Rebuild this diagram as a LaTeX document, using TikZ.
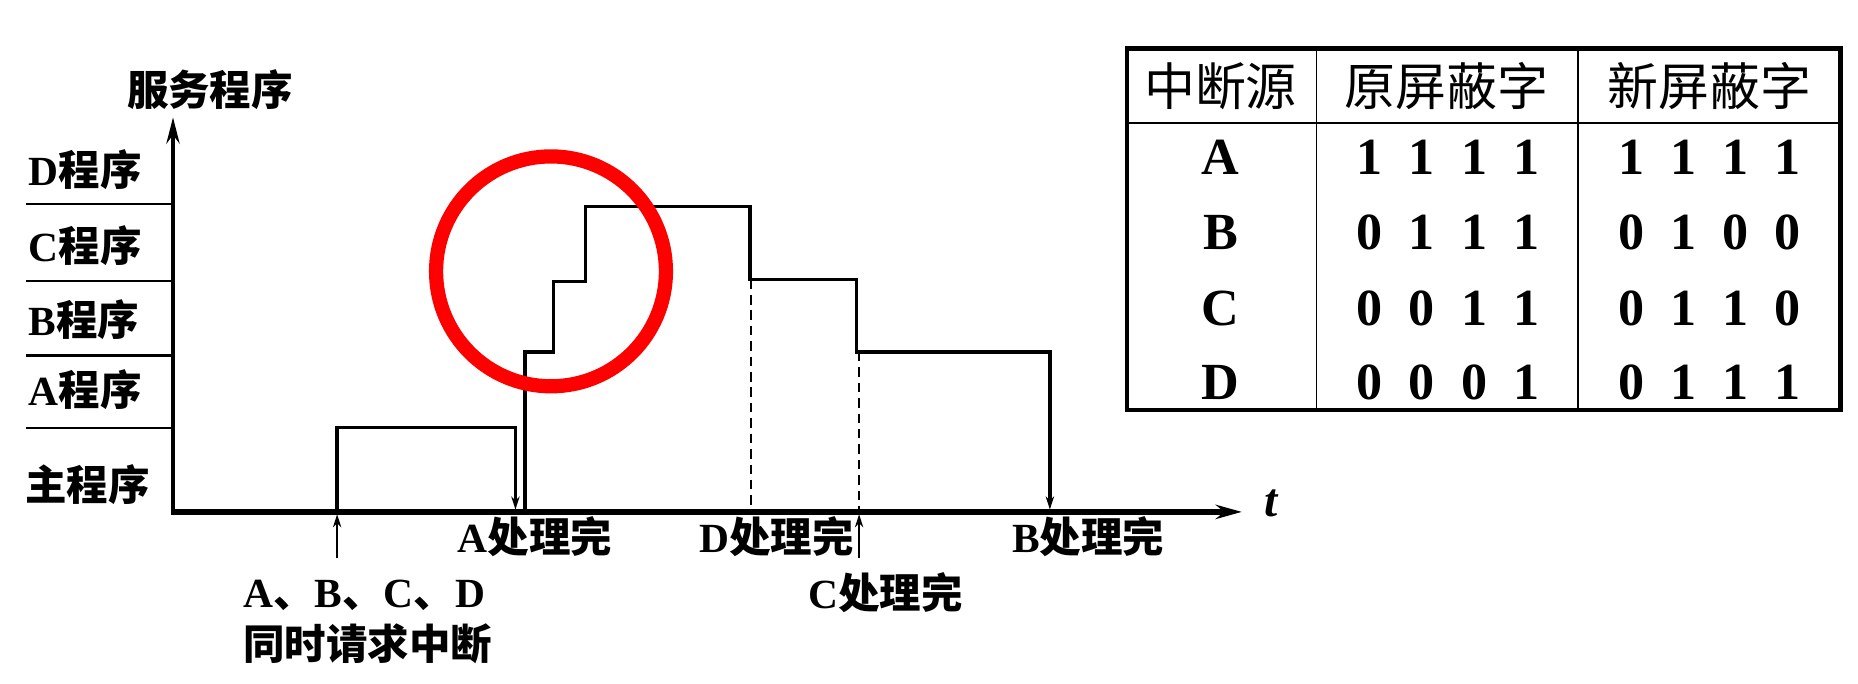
\documentclass[tikz,border=0pt]{standalone}
\usepackage{fontspec}
\setmainfont{Liberation Serif}
\newfontfamily\hei{Noto Sans CJK SC}
\newfontfamily\song{Noto Sans CJK SC}
\usetikzlibrary{arrows.meta}
\begin{document}
\begin{tikzpicture}[x=1pt,y=-1pt,
  lvl/.style={line width=1.8pt},
  stair/.style={line width=2.8pt},
  dashline/.style={line width=1.8pt, dash pattern=on 8pt off 5pt},
  smalltip/.style={-{Stealth[length=11pt,width=7pt]}},
  thinarr/.style={line width=1.6pt,-{Stealth[length=11pt,width=7pt]}},
  lab/.style={inner sep=0pt, anchor=west, font=\fontsize{35}{40}\selectfont\bfseries},
  tab/.style={inner sep=0pt, font=\fontsize{44}{48}\selectfont\bfseries},
  hd/.style={inner sep=0pt, font=\fontsize{43}{48}\selectfont\song},
]
\useasboundingbox (0,0) rectangle (1568,577);
% axes
\coordinate (O) at (146,432);
\coordinate (Ytop) at (146,99);
\coordinate (Xend) at (1048,432);
\draw[line width=3.8pt, -{Stealth[length=22pt,width=11pt]}] (O) -- (Ytop);
\draw[line width=5pt, -{Stealth[length=22pt,width=12pt]}] ([xshift=-1.9pt]O) -- (Xend);
\node[inner sep=0pt, font=\fontsize{40}{44}\selectfont\bfseries\itshape] (t) at (1073,425) {t};
% level lines
\foreach \yy [count=\i] in {172,237.5,300,361}{
  \coordinate (La\i) at (22,\yy);
  \coordinate (Lb\i) at (146,\yy);
  \draw[lvl] (La\i) -- (Lb\i);
}
% labels left
\node[lab] (top) at (107,76) {\hei 服务程序};
\node[lab] (lD) at (24,143.5) {D{\hei 程序}};
\node[lab] (lC) at (24,207) {C{\hei 程序}};
\node[lab] (lB) at (24,270) {B{\hei 程序}};
\node[lab] (lA) at (24,329) {A{\hei 程序}};
\node[lab] (lM) at (21,409) {\hei 主程序};
% main program step
\coordinate (m0) at (284.5,432);
\coordinate (m1) at (284.5,361);
\coordinate (m2) at (435,361);
\coordinate (m3) at (435,430);
\draw[stair, smalltip] (m0) -- (m1) -- (m2) -- (m3);
% interrupt staircase
\coordinate (s0) at (443,432);
\coordinate (s1) at (443,297);
\coordinate (s2) at (467,297);
\coordinate (s3) at (467,237.5);
\coordinate (s4) at (494,237.5);
\coordinate (s5) at (494,174);
\coordinate (s6) at (633,174);
\coordinate (s7) at (633,236);
\coordinate (s8) at (723,236);
\coordinate (s9) at (723,297);
\coordinate (s10) at (886,297);
\coordinate (s11) at (886,430);
\draw[stair, smalltip] (s0) -- (s1) -- (s2) -- (s3) -- (s4) -- (s5) -- (s6) -- (s7) -- (s8) -- (s9) -- (s10) -- (s11);
% dashed
\coordinate (d1a) at (634,236);
\coordinate (d1b) at (634,432);
\coordinate (d2a) at (725,297);
\coordinate (d2b) at (725,432);
\draw[dashline] (d1a) -- (d1b);
\draw[dashline] (d2a) -- (d2b);
% up arrows
\coordinate (u1a) at (284.5,471);
\coordinate (u1b) at (284.5,434);
\coordinate (u2a) at (725,471);
\coordinate (u2b) at (725,434);
\draw[thinarr] (u1a) -- (u1b);
\draw[thinarr] (u2a) -- (u2b);
% red circle
\node[draw=red, line width=12pt, circle, minimum size=194pt, inner sep=0pt] (ring) at (465,229) {};
% bottom labels
\node[lab] (fA) at (386,453) {A{\hei 处理完}};
\node[lab] (fD) at (590,453) {D{\hei 处理完}};
\node[lab] (fB) at (854,453) {B{\hei 处理完}};
\node[lab] (fC) at (682,500) {C{\hei 处理完}};
\node[lab] (req1) at (205,502) {A{\hei 、}B{\hei 、}C{\hei 、}D};
\node[lab] (req2) at (205,543) {\hei 同时请求中断};
% table
\draw[line width=4pt] (951,41) rectangle (1553,346);
\draw[line width=1.6pt] (951,103.5) -- (1553,103.5);
\draw[line width=1.6pt] (1111,41) -- (1111,346);
\draw[line width=1.6pt] (1332,41) -- (1332,346);
\node[hd] (h1) at (1030,73) {中断源};
\node[hd] (h2) at (1221,73) {原屏蔽字};
\node[hd] (h3) at (1443,73) {新屏蔽字};
\foreach \yy/\L/\bits [count=\r] in {132.5/A/{1,1,1,1,1,1,1,1}, 196/B/{0,1,1,1,0,1,0,0}, 260/C/{0,0,1,1,0,1,1,0}, 323/D/{0,0,0,1,0,1,1,1}}{
  \node[tab] (row\r) at (1030,\yy) {\L};
  \foreach \b [count=\k] in \bits {
    \pgfmathsetmacro\xx{\k<5 ? 1156+44*(\k-1) : 1377+43.7*(\k-5)}
    \node[tab] (b\r-\k) at (\xx,\yy) {\b};
  }
}
\end{tikzpicture}
\end{document}
